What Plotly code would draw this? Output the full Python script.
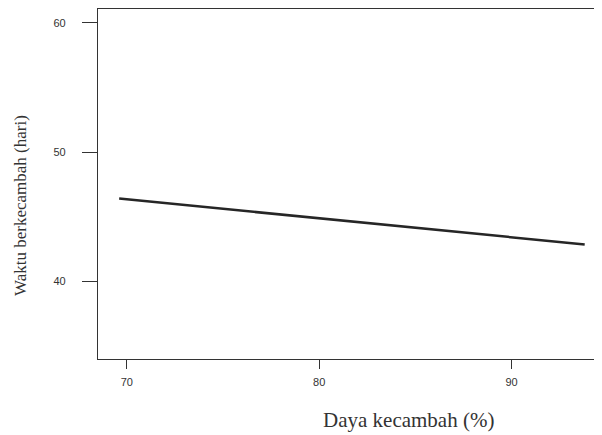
import plotly.graph_objects as go

# Data
daya_kecambah = [69.6, 93.8]        # x values (%)
waktu_berkecambah = [46.4, 42.85]   # y values (hari)
x_ticks = [70, 80, 90]
y_ticks = [40, 50, 60]

fig = go.Figure()
fig.add_trace(go.Scatter(
    x=daya_kecambah, y=waktu_berkecambah, mode="lines",
    line=dict(color="#262626", width=2.5), showlegend=False, hoverinfo="skip"))

tick_font = dict(family="Liberation Sans, Arial, sans-serif", size=11, color="#333")
serif = "Liberation Serif, Times New Roman, serif"

# the page body adds an 8px offset, so the figure is sized/positioned to compensate
OFF = 8
W, H = 602 - OFF, 435 - OFF
L, T = 98 - OFF, 1
B = H - (359 - OFF)
plot_w = W - L
plot_h = H - T - B

fig.update_layout(
    width=W, height=H,
    margin=dict(l=L, r=0, t=T, b=B, autoexpand=False),
    paper_bgcolor="white", plot_bgcolor="white",
    xaxis=dict(range=[68.5, 94.7], tickvals=x_ticks, ticks="outside", ticklen=9,
               tickwidth=1.3, tickcolor="#333", showline=True, linecolor="#333",
               linewidth=1.3, mirror=True, showgrid=False, zeroline=False,
               tickfont=tick_font, ticklabelstandoff=4, automargin=False),
    yaxis=dict(range=[33.98, 61.08], tickvals=y_ticks, ticks="outside", ticklen=15,
               tickwidth=1.3, tickcolor="#333", showline=True, linecolor="#333",
               linewidth=1.3, mirror=False, showgrid=False, zeroline=False,
               tickfont=tick_font, ticklabelstandoff=14, automargin=False),
    annotations=[
        dict(text="Daya kecambah (%)", xref="paper", yref="paper",
             x=(408 - OFF - L) / plot_w, y=(H - B - (420 - OFF)) / plot_h,
             xanchor="center", yanchor="middle", showarrow=False,
             font=dict(family=serif, size=21, color="#333")),
        dict(text="Waktu berkecambah (hari)", xref="paper", yref="paper",
             x=(20 - OFF - L) / plot_w, y=(H - B - (206 - OFF)) / plot_h, textangle=-90,
             xanchor="center", yanchor="middle", showarrow=False,
             font=dict(family=serif, size=17, color="#333")),
    ],
)

fig.write_html("out.html")
